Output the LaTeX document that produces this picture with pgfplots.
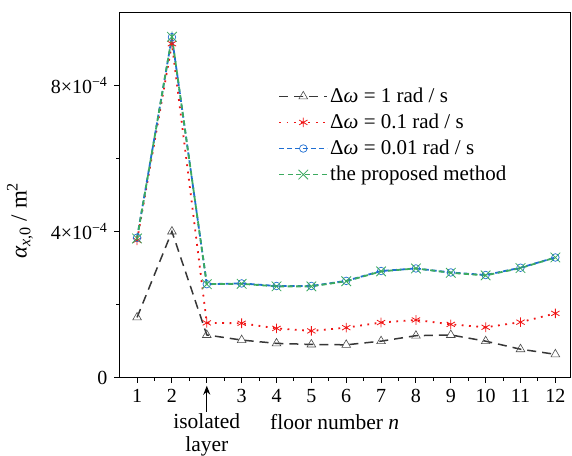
\documentclass[border=0pt]{standalone}
\usepackage{fontspec}
\setmainfont{Liberation Serif}
\usepackage{pgfplots}
\pgfplotsset{compat=1.18}
\usetikzlibrary{arrows.meta}

\definecolor{cblk}{RGB}{55,55,55}
\definecolor{cred}{RGB}{240,20,20}
\definecolor{cblue}{RGB}{30,110,210}
\definecolor{cgreen}{RGB}{60,170,95}

\begin{document}
\fontsize{20}{24}\selectfont
\begin{tikzpicture}
\path[use as bounding box] (-119.3pt,-77.3pt) rectangle (452.7pt,377.7pt);
\begin{axis}[at={(0,0)}, anchor=south west,
  width=451.4pt, height=365.4pt, scale only axis, clip=false,
  xmin=0.49, xmax=13.44, ymin=0, ymax=1e-3,
  xtick={1,...,13}, xticklabels={1,2,,3,4,5,6,7,8,9,10,11,12},
  minor x tick num=1,
  ytick={0,4e-4,8e-4}, scaled y ticks=false,
  yticklabels={0,4×10\textsuperscript{−4},8×10\textsuperscript{−4}},
  minor y tick num=1,
  tick pos=left, tick align=outside,
  major tick length=5pt, minor tick length=3pt,
  axis line style={line width=1.2pt, black},
  every tick/.style={black, line width=1.1pt},
  ylabel={\fontsize{23}{25}\selectfont{\itshape α}\textsubscript{{\itshape x},0} / m\textsuperscript{2}},
  ylabel style={at={(axis description cs:-0.22,0.43)}, anchor=center},
  legend style={at={(axis description cs:0.352,0.80)}, anchor=north west,
    draw=none, fill=none, inner sep=0pt, row sep=4.5pt,
    font=\fontsize{21}{24}\selectfont},
  legend cell align=left,
  legend image code/.code={\draw[mark repeat=2,mark phase=2,#1]
    plot coordinates {(0pt,0pt)(24pt,0pt)(48pt,0pt)};},
]
\addplot[cblk, line width=1.5pt, dash pattern=on 9pt off 6pt,
  mark=triangle, mark size=5pt,
  mark options={solid, line width=0.6pt, draw=black!70, fill=white}]
  coordinates {(1,1.65e-4)(2,4.0e-4)(3,1.17e-4)(4,1.03e-4)(5,0.94e-4)(6,0.91e-4)
  (7,0.90e-4)(8,1.0e-4)(9,1.15e-4)(10,1.17e-4)(11,1.0e-4)(12,0.78e-4)(13,0.64e-4)};
\addlegendentry{Δ{\itshape ω} = 1 rad / s}
\addplot[cred, line width=1.8pt, dash pattern=on 1.8pt off 5.5pt,
  mark=asterisk, mark size=4.8pt, mark options={solid, line width=0.8pt}]
  coordinates {(1,3.76e-4)(2,9.14e-4)(3,1.50e-4)(4,1.49e-4)(5,1.35e-4)(6,1.28e-4)
  (7,1.37e-4)(8,1.51e-4)(9,1.58e-4)(10,1.46e-4)(11,1.38e-4)(12,1.52e-4)(13,1.76e-4)};
\addlegendentry{Δ{\itshape ω} = 0.1 rad / s}
\addplot[cblue, line width=1.8pt, dash pattern=on 5pt off 3pt,
  mark=o, mark size=3.8pt, mark options={solid, line width=0.7pt}]
  coordinates {(1,3.83e-4)(2,9.32e-4)(3,2.56e-4)(4,2.58e-4)(5,2.51e-4)(6,2.51e-4)
  (7,2.65e-4)(8,2.92e-4)(9,2.99e-4)(10,2.88e-4)(11,2.81e-4)(12,3.01e-4)(13,3.29e-4)};
\addlegendentry{Δ{\itshape ω} = 0.01 rad / s}
\addplot[cgreen, line width=1.8pt, dash pattern=on 5pt off 3.5pt,
  mark=x, mark size=6.8pt, mark options={solid, line width=0.8pt}]
  coordinates {(1,3.81e-4)(2,9.33e-4)(3,2.56e-4)(4,2.57e-4)(5,2.50e-4)(6,2.50e-4)
  (7,2.64e-4)(8,2.91e-4)(9,2.99e-4)(10,2.87e-4)(11,2.80e-4)(12,3.00e-4)(13,3.29e-4)};
\addlegendentry{the proposed method}

\draw[-{Stealth[length=9pt,width=7pt]}, line width=1.1pt]
  ([yshift=-34pt]axis cs:3,0) -- ([yshift=-8pt]axis cs:3,0);
\node[align=center, anchor=north, inner sep=0pt, font=\fontsize{21.5}{24}\selectfont]
  at ([yshift=-36pt]axis cs:3,0) {isolated\\[-1pt]layer};
\node[anchor=north, inner sep=0pt, font=\fontsize{21.5}{24}\selectfont]
  at ([yshift=-36pt]axis cs:6.67,0) {floor number {\itshape n}};
\end{axis}
\end{tikzpicture}
\end{document}
